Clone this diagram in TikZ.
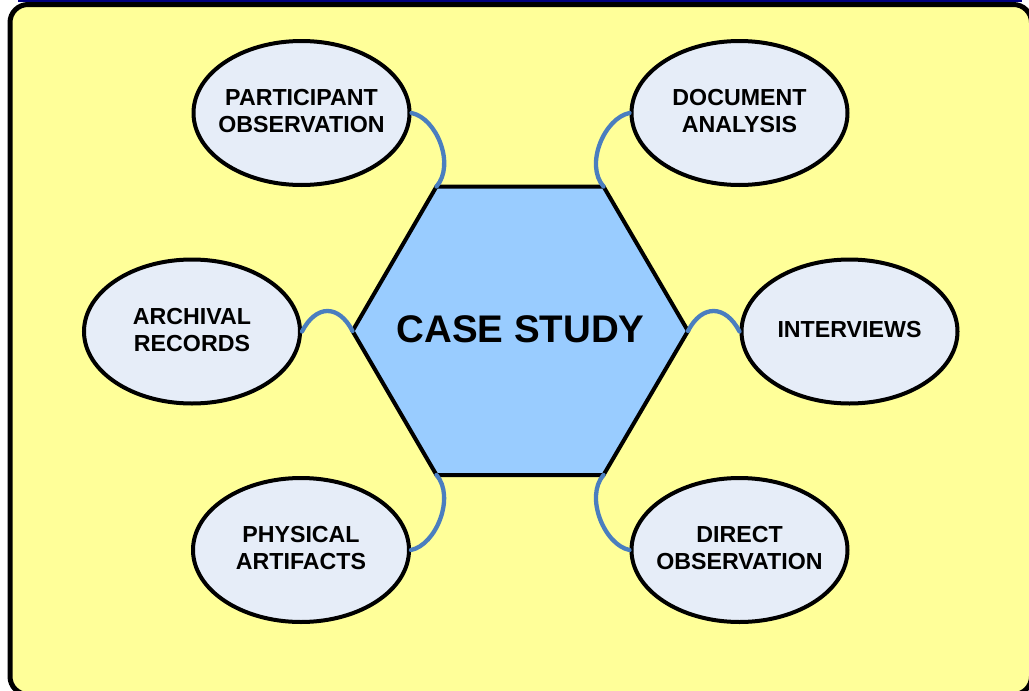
\documentclass[tikz,border=0pt]{standalone}
\usepackage{fontspec}
\setmainfont{Liberation Sans}
\usetikzlibrary{shapes.geometric}
\definecolor{bgyellow}{RGB}{255,255,153}
\definecolor{ellfill}{RGB}{230,237,248}
\definecolor{hexfill}{RGB}{153,204,255}
\definecolor{connblue}{RGB}{74,126,191}
\definecolor{navyline}{RGB}{0,0,128}
\tikzset{
  method/.style={ellipse, draw=black, line width=4pt, fill=ellfill,
    minimum width=216pt, minimum height=144pt, inner sep=0pt},
  mtext/.style={inner sep=0pt, align=center,
    font=\fontsize{23.2}{27}\selectfont\bfseries},
  hexbox/.style={draw=black, line width=4pt, fill=hexfill, line join=miter},
  conn/.style={draw=connblue, line width=4.3pt, line cap=round},
  title/.style={font=\fontsize{38.5}{44}\selectfont\bfseries, inner sep=0pt}
}
\begin{document}
\begin{tikzpicture}[x=1pt,y=-1pt]
\useasboundingbox (0,0) rectangle (1029,691);
\begin{scope}
\clip (0,0) rectangle (1029,691);
\fill[white] (0,0) rectangle (1029,691);
\draw[navyline, line width=2pt] (18,0.8) -- (1022,0.8);
\draw[black, line width=5pt, fill=bgyellow, rounded corners=18pt]
  (10,4.5) rectangle (1031.5,694.5);
\end{scope}
% hexagon
\coordinate (hTL) at (436.5,186.5);
\coordinate (hTR) at (603.5,186.5);
\coordinate (hR)  at (688,331);
\coordinate (hBR) at (603.5,475);
\coordinate (hBL) at (436.5,475);
\coordinate (hL)  at (352.5,331);
\draw[hexbox] (hTL) -- (hTR) -- (hR) -- (hBR) -- (hBL) -- (hL) -- cycle;
\node[title] (cs) at (520.5,329) {CASE STUDY};
% methods
\node[method] (pa) at (301.5,113) {};
\node[method] (dm) at (739.5,113) {};
\node[method] (ar) at (192,331.5) {};
\node[method] (iv) at (849.5,331.5) {};
\node[method] (ph) at (301,550) {};
\node[method] (dr) at (739.5,550) {};
\node[mtext] (paT) at ([yshift=1.5pt]pa.center) {PARTICIPANT\\OBSERVATION};
\node[mtext] (dmT) at ([yshift=1.5pt]dm.center) {DOCUMENT\\ANALYSIS};
\node[mtext] (arT) at ([yshift=1.5pt]ar.center) {ARCHIVAL\\RECORDS};
\node[mtext] (ivT) at ([yshift=1.5pt]iv.center) {INTERVIEWS};
\node[mtext] (phT) at ([yshift=1.5pt]ph.center) {PHYSICAL\\ARTIFACTS};
\node[mtext] (drT) at ([yshift=1.5pt]dr.center) {DIRECT\\OBSERVATION};
% connectors
\draw[conn] (pa.east) .. controls +(25,5) and +(19,-22) .. (hTL);
\draw[conn] (dm.west) .. controls +(-25,5) and +(-19,-22) .. (hTR);
\draw[conn] (ph.east) .. controls +(25,-5) and +(19,22) .. (hBL);
\draw[conn] (dr.west) .. controls +(-25,-5) and +(-19,22) .. (hBR);
\draw[conn] (ar.east) .. controls +(14,-27) and +(-14,-27) .. (hL);
\draw[conn] (hR) .. controls +(14,-27) and +(-14,-27) .. (iv.west);
\end{tikzpicture}
\end{document}
